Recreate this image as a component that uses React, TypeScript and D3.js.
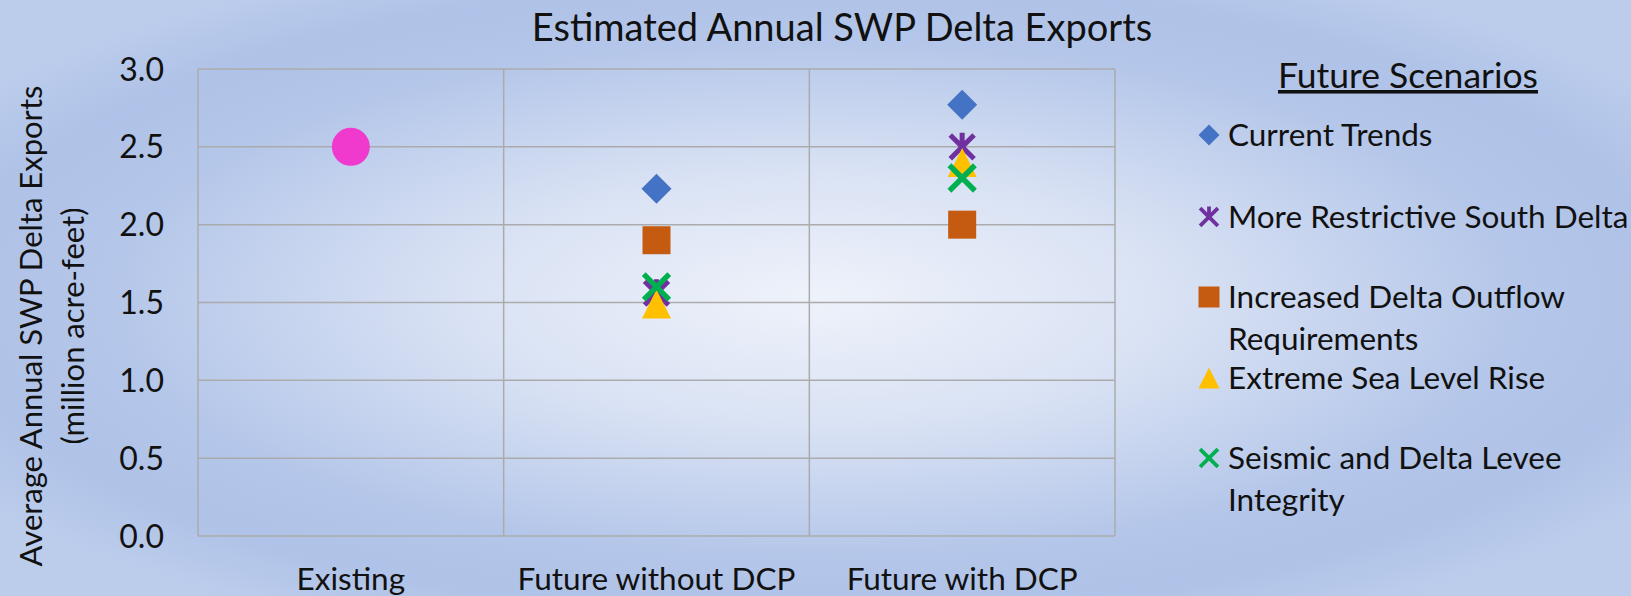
import { useEffect, useRef } from 'react';
import * as d3 from 'd3';

const WIDTH = 1631;
const HEIGHT = 596;

const categories = ['Existing', 'Future without DCP', 'Future with DCP'];
const yTicks = [0, 0.5, 1, 1.5, 2, 2.5, 3];

const existing = [2.5, null, null];
const currentTrends = [null, 2.23, 2.77];
const moreRestrictive = [null, 1.56, 2.5];
const increasedOutflow = [null, 1.9, 2.0];
const seaLevelRise = [null, 1.49, 2.4];
const seismicLevee = [null, 1.6, 2.3];

const seriesNames = [
  ['Current Trends'],
  ['More Restrictive South Delta'],
  ['Increased Delta Outflow', 'Requirements'],
  ['Extreme Sea Level Rise'],
  ['Seismic and Delta Levee', 'Integrity'],
];

const FONT = 'Lato, "Open Sans", sans-serif';

// marker shapes, r = half width
function drawMarker(g: any, kind: string, x: number, y: number, r: number, color: string) {
  if (kind === 'circle') {
    g.append('circle').attr('cx', x).attr('cy', y).attr('r', r).attr('fill', color);
  } else if (kind === 'diamond') {
    const p = d3.path();
    p.moveTo(x, y - r); p.lineTo(x + r, y); p.lineTo(x, y + r); p.lineTo(x - r, y); p.closePath();
    g.append('path').attr('d', p.toString()).attr('fill', color);
  } else if (kind === 'square') {
    g.append('rect').attr('x', x - r).attr('y', y - r).attr('width', 2 * r).attr('height', 2 * r).attr('fill', color);
  } else if (kind === 'triangle') {
    const p = d3.path();
    p.moveTo(x, y - r); p.lineTo(x + r, y + r); p.lineTo(x - r, y + r); p.closePath();
    g.append('path').attr('d', p.toString()).attr('fill', color);
  } else if (kind === 'x' || kind === 'star') {
    const p = d3.path();
    const a = r * 0.85;
    p.moveTo(x - a, y - a); p.lineTo(x + a, y + a);
    p.moveTo(x + a, y - a); p.lineTo(x - a, y + a);
    if (kind === 'star') { p.moveTo(x, y - r); p.lineTo(x, y); }
    g.append('path').attr('d', p.toString()).attr('stroke', color)
      .attr('stroke-width', r * 0.36).attr('fill', 'none');
  }
}

export default function App() {
  const svgRef = useRef<SVGSVGElement>(null);

  useEffect(() => {
    const svg = d3.select(svgRef.current);
    svg.selectAll('*').remove();

    const defs = svg.append('defs');
    const grad = defs.append('radialGradient').attr('id', 'bg')
      .attr('cx', '50%').attr('cy', '50%').attr('r', '62%');
    grad.append('stop').attr('offset', '0%').attr('stop-color', '#eef2fa');
    grad.append('stop').attr('offset', '35%').attr('stop-color', '#d9e2f4');
    grad.append('stop').attr('offset', '70%').attr('stop-color', '#b4c6e9');
    grad.append('stop').attr('offset', '85%').attr('stop-color', '#afc2e7');
    grad.append('stop').attr('offset', '100%').attr('stop-color', '#bccdec');

    svg.append('rect').attr('width', WIDTH).attr('height', HEIGHT).attr('fill', 'url(#bg)');

    const x = d3.scaleBand().domain(categories).range([198, 1115]).padding(0);
    const y = d3.scaleLinear().domain([0, 3]).range([536, 69]);

    // grid
    const grid = svg.append('g').attr('stroke', '#ababab').attr('stroke-width', 1.5);
    yTicks.forEach(t => {
      grid.append('line').attr('x1', 198).attr('x2', 1115).attr('y1', y(t)).attr('y2', y(t));
    });
    categories.forEach((c, i) => {
      const xx = x(c)!;
      grid.append('line').attr('x1', xx).attr('x2', xx).attr('y1', y(3)).attr('y2', y(0));
      if (i === categories.length - 1) {
        grid.append('line').attr('x1', xx + x.bandwidth()).attr('x2', xx + x.bandwidth()).attr('y1', y(3)).attr('y2', y(0));
      }
    });

    // tick labels
    svg.append('g').selectAll('text').data(yTicks).join('text')
      .attr('x', 164).attr('y', d => y(d)).attr('dy', '0.36em')
      .attr('text-anchor', 'end').attr('font-family', FONT).attr('font-size', 32)
      .attr('fill', '#111').text(d => d.toFixed(1));

    svg.append('g').selectAll('text').data(categories).join('text')
      .attr('x', d => x(d)! + x.bandwidth() / 2).attr('y', 590)
      .attr('text-anchor', 'middle').attr('font-family', FONT).attr('font-size', 31.5)
      .attr('fill', '#111').text(d => d);

    // titles
    svg.append('text').attr('x', 842).attr('y', 41).attr('text-anchor', 'middle')
      .attr('font-family', FONT).attr('font-size', 38).attr('fill', '#111')
      .text('Estimated Annual SWP Delta Exports');

    const yt = svg.append('text').attr('transform', 'translate(0,326) rotate(-90)')
      .attr('text-anchor', 'middle').attr('font-family', FONT).attr('font-size', 31).attr('fill', '#111');
    yt.append('tspan').attr('x', 0).attr('y', 42).text('Average Annual SWP Delta Exports');
    yt.append('tspan').attr('x', 0).attr('y', 84).text('(million acre-feet)');

    // points
    const series = [
      { values: existing, kind: 'circle', color: '#ef3acd', r: 19 },
      { values: currentTrends, kind: 'diamond', color: '#4472c4', r: 15 },
      { values: moreRestrictive, kind: 'star', color: '#7030a0', r: 14 },
      { values: increasedOutflow, kind: 'square', color: '#c55a11', r: 14 },
      { values: seaLevelRise, kind: 'triangle', color: '#ffc000', r: 14.5 },
      { values: seismicLevee, kind: 'x', color: '#00b050', r: 15 },
    ];
    const pts = svg.append('g');
    series.forEach(s => {
      s.values.forEach((v, i) => {
        if (v == null) return;
        drawMarker(pts, s.kind, x(categories[i])! + x.bandwidth() / 2, y(v), s.r, s.color);
      });
    });

    // legend
    const lg = svg.append('g').attr('font-family', FONT).attr('fill', '#111');
    lg.append('text').attr('x', 1408).attr('y', 88).attr('text-anchor', 'middle')
      .attr('font-size', 35.5).attr('text-decoration', 'underline').text('Future Scenarios');
    const rowY = [135, 217, 297, 378, 458];
    series.slice(1).forEach((s, i) => {
      drawMarker(lg, s.kind, 1209, rowY[i], 10.5, s.color);
      seriesNames[i].forEach((line, j) => {
        lg.append('text').attr('x', 1228).attr('y', rowY[i] + 11 + j * 42)
          .attr('font-size', 31.5).text(line);
      });
    });
  }, []);

  return (
    <svg ref={svgRef} width={WIDTH} height={HEIGHT}
      style={{ position: 'absolute', left: 0, top: 0, display: 'block' }} />
  );
}
